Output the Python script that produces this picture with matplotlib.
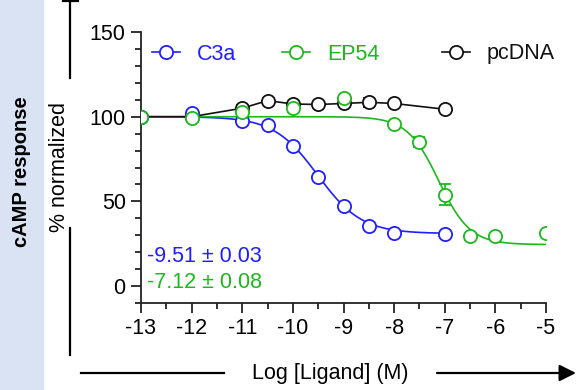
import numpy as np
import matplotlib.pyplot as plt
from matplotlib.lines import Line2D
from matplotlib.patches import FancyArrowPatch, Rectangle
from matplotlib.ticker import MultipleLocator

plt.rcParams['font.family'] = ['Liberation Sans', 'DejaVu Sans']
plt.rcParams['axes.unicode_minus'] = False

# C3a
c3a_x = [-13, -12, -11, -10.5, -10, -9.5, -9, -8.5, -8, -7]
c3a_y = [100, 102, 97.5, 95, 82.5, 64.5, 47, 35.5, 31.5, 31]
c3a_fit = dict(top=100, bottom=31, logec50=-9.51, hill=1.0)

# EP54
ep54_x = [-13, -12, -11, -10, -9, -8, -7.5, -7, -6.5, -6, -5]
ep54_y = [100, 99.5, 103, 105, 111, 95.5, 85, 54, 29.5, 29.3, 31.5]
ep54_err = [0, 0, 0, 2, 0, 0, 3, 6, 0, 0, 0]
ep54_fit = dict(top=100, bottom=24.5, logec50=-7.12, hill=1.4)

# pcDNA
pc_x = [-13, -12, -11, -10.5, -10, -9.5, -9, -8.5, -8, -7]
pc_y = [100, 100, 105, 109.5, 107.5, 107.2, 107.8, 108.5, 107.8, 104.4]
pc_err = [0, 0, 2, 0, 0, 0, 0, 2.5, 0, 0]

series_names = ['C3a', 'EP54', 'pcDNA']
ec50_labels = ['-9.51 ± 0.03', '-7.12 ± 0.08']

blue = '#1f1fff'
green = '#1cb81c'
black = '#111111'
FS = 15.5
W, H = 588, 390


def fit_curve(x, top, bottom, logec50, hill):
    return bottom + (top - bottom) / (1 + 10 ** ((x - logec50) * hill))


def fx(px):
    return px / W


def fy(py):
    return 1 - py / H


fig = plt.figure(figsize=(5.88, 3.90), dpi=100)

# side band
fig.patches.append(Rectangle((0, 0), fx(43), 1, transform=fig.transFigure,
                             color='#dae3f3', zorder=0))
fig.text(fx(21.5), fy(171.5), 'cAMP response', rotation=90, ha='center',
         va='center', fontsize=14.5, fontweight='bold')

ax = fig.add_axes([fx(141), fy(303), (546 - 141) / W, (303 - 32) / H])

xs = np.linspace(-13, -7, 300)
ax.plot(xs, fit_curve(xs, **c3a_fit), color=blue, lw=1.2, zorder=2)
xs2 = np.linspace(-13, -5, 400)
ax.plot(xs2, fit_curve(xs2, **ep54_fit), color=green, lw=1.2, zorder=2)
ax.plot(pc_x, pc_y, color=black, lw=1.2, zorder=2)

mk = dict(marker='o', ms=9.5, mfc='white', mew=1.3, ls='none', zorder=4)
ax.errorbar(pc_x, pc_y, yerr=pc_err, color=black, capsize=4, elinewidth=1.2,
            capthick=1.2, **mk)
ax.errorbar(c3a_x, c3a_y, color=blue, **mk)
ax.errorbar(ep54_x, ep54_y, yerr=ep54_err, color=green, capsize=4,
            elinewidth=1.2, capthick=1.2, **mk)

# legend drawn by hand (Prism places entries freely)
leg_y = fy(51.5)
for name, c, x0 in zip(series_names, [blue, green, black], [152, 282, 442]):
    fig.add_artist(Line2D([fx(x0), fx(x0 + 28)], [leg_y, leg_y], color=c, lw=1.2))
    fig.add_artist(Line2D([fx(x0 + 14)], [leg_y], color=c, marker='o', ms=9.5,
                          mfc='white', mew=1.3))
    fig.text(fx(x0 + 45), leg_y, name, color=c, fontsize=FS, va='center_baseline')

ax.text(-12.88, 17.5, ec50_labels[0], color=blue, fontsize=FS, va='center')
ax.text(-12.88, 2, ec50_labels[1], color=green, fontsize=FS, va='center')

ax.set_xlim(-13, -5)
ax.set_ylim(-10, 150)
ax.set_xticks(range(-13, -4))
ax.xaxis.set_minor_locator(MultipleLocator(0.5))
ax.set_yticks([0, 50, 100, 150])
ax.yaxis.set_minor_locator(MultipleLocator(10))
ax.spines['top'].set_visible(False)
ax.spines['right'].set_visible(False)
for s in ['left', 'bottom']:
    ax.spines[s].set_linewidth(1.3)
    ax.spines[s].set_color('#222222')
ax.tick_params(which='major', length=7, width=1.3, labelsize=FS, pad=4, color='#222222')
ax.tick_params(which='minor', length=4, width=1.3, color='#222222')
ax.set_ylabel('% normalized', fontsize=FS)
ax.yaxis.set_label_coords((70 - 141) / 405, (303 - 166.5) / 271)

# decorative axis lines outside the plot
fig.add_artist(Line2D([fx(70), fx(70)], [fy(78), 1.0], color='black', lw=1.6))
fig.add_artist(Line2D([fx(63), fx(78)], [fy(1), fy(1)], color='black', lw=1.6))
fig.add_artist(Line2D([fx(70), fx(70)], [fy(355), fy(228)], color='black', lw=1.6))
fig.add_artist(Line2D([fx(81), fx(224)], [fy(373), fy(373)], color='black', lw=1.6))
fig.text(fx(330), fy(373), 'Log [Ligand] (M)', ha='center', va='center', fontsize=FS)
fig.add_artist(FancyArrowPatch(
    (fx(437), fy(373)), (fx(576), fy(373)), transform=fig.transFigure,
    arrowstyle='-|>,head_length=10,head_width=5', color='black', lw=1.6,
    shrinkA=0, shrinkB=0))

fig.savefig('out.png', dpi=100)
plt.close(fig)
